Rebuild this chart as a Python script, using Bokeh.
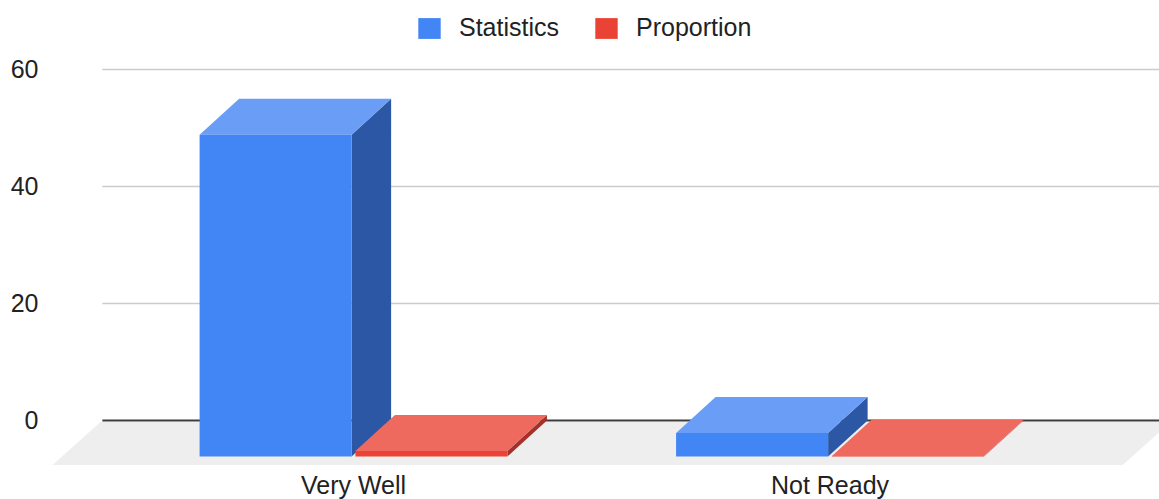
from bokeh.plotting import figure
from bokeh.models import Range1d, FixedTicker, Legend, LegendItem, ColumnDataSource
from bokeh.core.properties import value
from bokeh.embed import file_html
from bokeh.resources import INLINE

# --- data -------------------------------------------------------------
categories = ["Very Well", "Not Ready"]
statistics = [55, 4]
proportion = [0.93, 0.07]
y_ticks = [0, 20, 40, 60]

# --- 3D geometry (category units on x, value units on y) -------------
BAR_W = 0.319          # width of one bar
GAP = 0.004            # half gap between the two bars of a group
DX, DY = -0.0829, -6.15   # offset of a bar's front face from its back face
FLOOR_BACK_Y, FLOOR_FRONT_Y = -0.25, -7.6
FLOOR_X0, FLOOR_X1, FLOOR_DX = -0.614, 1.632, -0.1007
LABEL_Y = -11.05       # row of the category labels

X0, X1 = -0.7272, 1.6086
Y0, Y1 = -13.504, 71.79

FONT = "Liberation Sans"
TEXT = "#222222"

p = figure(width=1159, height=499, output_backend="svg", toolbar_location=None,
           x_range=Range1d(X0, X1), y_range=Range1d(Y0, Y1),
           x_axis_location=None, min_border_left=46, min_border_right=0,
           min_border_top=0, min_border_bottom=0)
p.outline_line_color = None
p.grid.visible = False
p.background_fill_color = "white"
p.border_fill_color = "white"

# floor
p.patch([FLOOR_X0, FLOOR_X1, FLOOR_X1 + FLOOR_DX, FLOOR_X0 + FLOOR_DX],
        [FLOOR_BACK_Y, FLOOR_BACK_Y, FLOOR_FRONT_Y, FLOOR_FRONT_Y],
        fill_color="#EEEEEE", line_color=None)

# gridlines on the back wall
grid_vals = [v for v in y_ticks if v != 0]
p.segment(x0=[FLOOR_X0 + 0.004] * len(grid_vals), x1=[X1 + 0.2] * len(grid_vals),
          y0=grid_vals, y1=grid_vals, line_color="#CCCCCC", line_width=1.3)
p.segment(x0=[FLOOR_X0 + 0.004], x1=[X1 + 0.2], y0=[0], y1=[0],
          line_color="#3C3C3C", line_width=1.8)


def bar_faces(values, offset):
    fronts = dict(left=[], right=[], top=[], bottom=[])
    tops = dict(xs=[], ys=[])
    sides = dict(xs=[], ys=[])
    for i, v in enumerate(values):
        a = i + offset
        b = a + BAR_W
        fronts["left"].append(a + DX)
        fronts["right"].append(b + DX)
        fronts["bottom"].append(DY)
        fronts["top"].append(v + DY)
        tops["xs"].append([a + DX, a, b, b + DX])
        tops["ys"].append([v + DY, v, v, v + DY])
        sides["xs"].append([b + DX, b, b, b + DX])
        sides["ys"].append([DY, 0, v, v + DY])
    return fronts, tops, sides


series = [
    ("Statistics", statistics, -GAP - BAR_W, "#4285F4", "#699DF6", "#2C57A4"),
    ("Proportion", proportion, GAP, "#EA4335", "#EE6A5F", "#A4302A"),
]

legend_items = []
for name, vals, off, c_front, c_top, c_side in series:
    fronts, tops, sides = bar_faces(vals, off)
    p.patches(xs="xs", ys="ys", source=ColumnDataSource(sides),
              fill_color=c_side, line_color=None)
    p.patches(xs="xs", ys="ys", source=ColumnDataSource(tops),
              fill_color=c_top, line_color=None)
    r = p.quad(left="left", right="right", top="top", bottom="bottom",
               source=ColumnDataSource(fronts), fill_color=c_front, line_color=None)
    legend_items.append(LegendItem(label=name, renderers=[r]))

# y axis
yaxis = p.yaxis[0]
yaxis.ticker = FixedTicker(ticks=y_ticks)
yaxis.axis_line_color = None
yaxis.major_tick_line_color = None
yaxis.minor_tick_line_color = None
yaxis.major_label_standoff = 2
yaxis.major_label_text_font = FONT
yaxis.major_label_text_font_size = "25px"
yaxis.major_label_text_color = TEXT

# category labels, centred under the front faces of each group
p.text(x=[i + DX for i in range(len(categories))], y=[LABEL_Y] * len(categories),
       text=categories, text_align="center", text_baseline="middle",
       text_font=value(FONT), text_font_size=value("25px"), text_color=TEXT)

legend = Legend(items=legend_items, orientation="horizontal", location=(369, 457),
                glyph_width=28, glyph_height=26, label_standoff=16, spacing=33,
                padding=0, margin=0, border_line_color=None, background_fill_alpha=0,
                label_text_font=FONT, label_text_font_size="25px", label_text_color=TEXT)
p.add_layout(legend)

open("out.html", "w").write(file_html(p, INLINE))
